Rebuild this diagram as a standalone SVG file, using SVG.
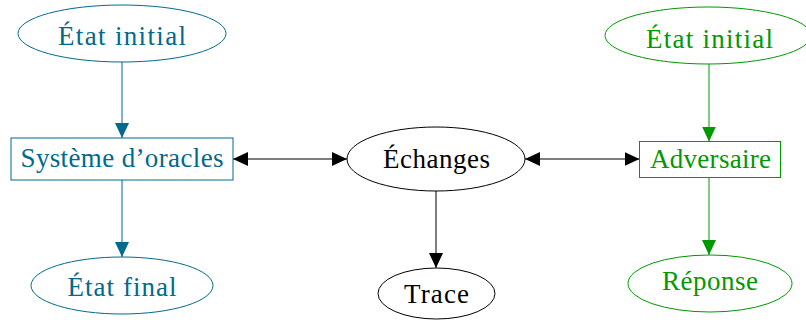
<svg xmlns="http://www.w3.org/2000/svg" width="806" height="322" viewBox="0 0 806 322">
<style>
text{font-family:"Liberation Serif","Times New Roman",serif;font-size:27px;text-anchor:middle}
.b{stroke:#006a8e;fill:none;stroke-width:1}
.bt{fill:#006a8e}
.g{stroke:#009900;fill:none;stroke-width:1}
.gt{fill:#009900}
.k{stroke:#000;fill:none;stroke-width:1}
.kt{fill:#000}
</style>
<defs>
<marker id="ab" viewBox="0 0 15 14" refX="15" refY="7" markerWidth="15" markerHeight="14" markerUnits="userSpaceOnUse" orient="auto"><path d="M0,0 L15,7 L0,14 z" fill="#006a8e"/></marker>
<marker id="ag" viewBox="0 0 15 14" refX="15" refY="7" markerWidth="15" markerHeight="14" markerUnits="userSpaceOnUse" orient="auto"><path d="M0,0 L15,7 L0,14 z" fill="#009900"/></marker>
<marker id="ak" viewBox="0 0 15 14" refX="15" refY="7" markerWidth="15" markerHeight="14" markerUnits="userSpaceOnUse" orient="auto-start-reverse"><path d="M0,0 L15,7 L0,14 z" fill="#000"/></marker>
</defs>
<g id="connectors">
<line class="b" x1="122" y1="62" x2="122" y2="138" marker-end="url(#ab)"/>
<line class="b" x1="122" y1="180" x2="122" y2="257" marker-end="url(#ab)"/>
<line class="g" x1="709" y1="64" x2="709" y2="141.5" marker-end="url(#ag)"/>
<line class="g" x1="709" y1="177.5" x2="709" y2="255" marker-end="url(#ag)"/>
<line class="k" x1="233" y1="159" x2="347" y2="159" marker-start="url(#ak)" marker-end="url(#ak)"/>
<line class="k" x1="525" y1="159" x2="639.5" y2="159" marker-start="url(#ak)" marker-end="url(#ak)"/>
<line class="k" x1="436" y1="191" x2="436" y2="268" marker-end="url(#ak)"/>
</g>
<g id="etat-initial-sys">
<ellipse class="b" cx="122" cy="33.5" rx="104" ry="28.5"/>
<text class="bt" x="122" y="45" textLength="128" lengthAdjust="spacing">État initial</text>
</g>
<g id="systeme">
<rect class="b" x="11" y="138" width="222" height="42"/>
<text class="bt" x="122" y="167" textLength="203" lengthAdjust="spacing">Système d’oracles</text>
</g>
<g id="etat-final">
<ellipse class="b" cx="122" cy="285.5" rx="91" ry="28.5"/>
<text class="bt" x="122" y="296" textLength="109" lengthAdjust="spacing">État final</text>
</g>
<g id="echanges">
<ellipse class="k" cx="436" cy="159" rx="89" ry="32"/>
<text class="kt" x="436.5" y="168" textLength="107" lengthAdjust="spacing">Échanges</text>
</g>
<g id="trace">
<ellipse class="k" cx="436.5" cy="293.5" rx="58.5" ry="25.5"/>
<text class="kt" x="436.5" y="303" textLength="65" lengthAdjust="spacing">Trace</text>
</g>
<g id="etat-initial-adv">
<ellipse class="g" cx="708" cy="35.5" rx="103" ry="28.5"/>
<text class="gt" x="709.5" y="47.5" textLength="127" lengthAdjust="spacing">État initial</text>
</g>
<g id="adversaire">
<rect class="g" x="639.5" y="141.5" width="141" height="36"/>
<text class="gt" x="710.5" y="168" textLength="121" lengthAdjust="spacing">Adversaire</text>
</g>
<g id="reponse">
<ellipse class="g" cx="710" cy="283.5" rx="82" ry="28.5"/>
<text class="gt" x="710" y="290" textLength="96" lengthAdjust="spacing">Réponse</text>
</g>
</svg>
